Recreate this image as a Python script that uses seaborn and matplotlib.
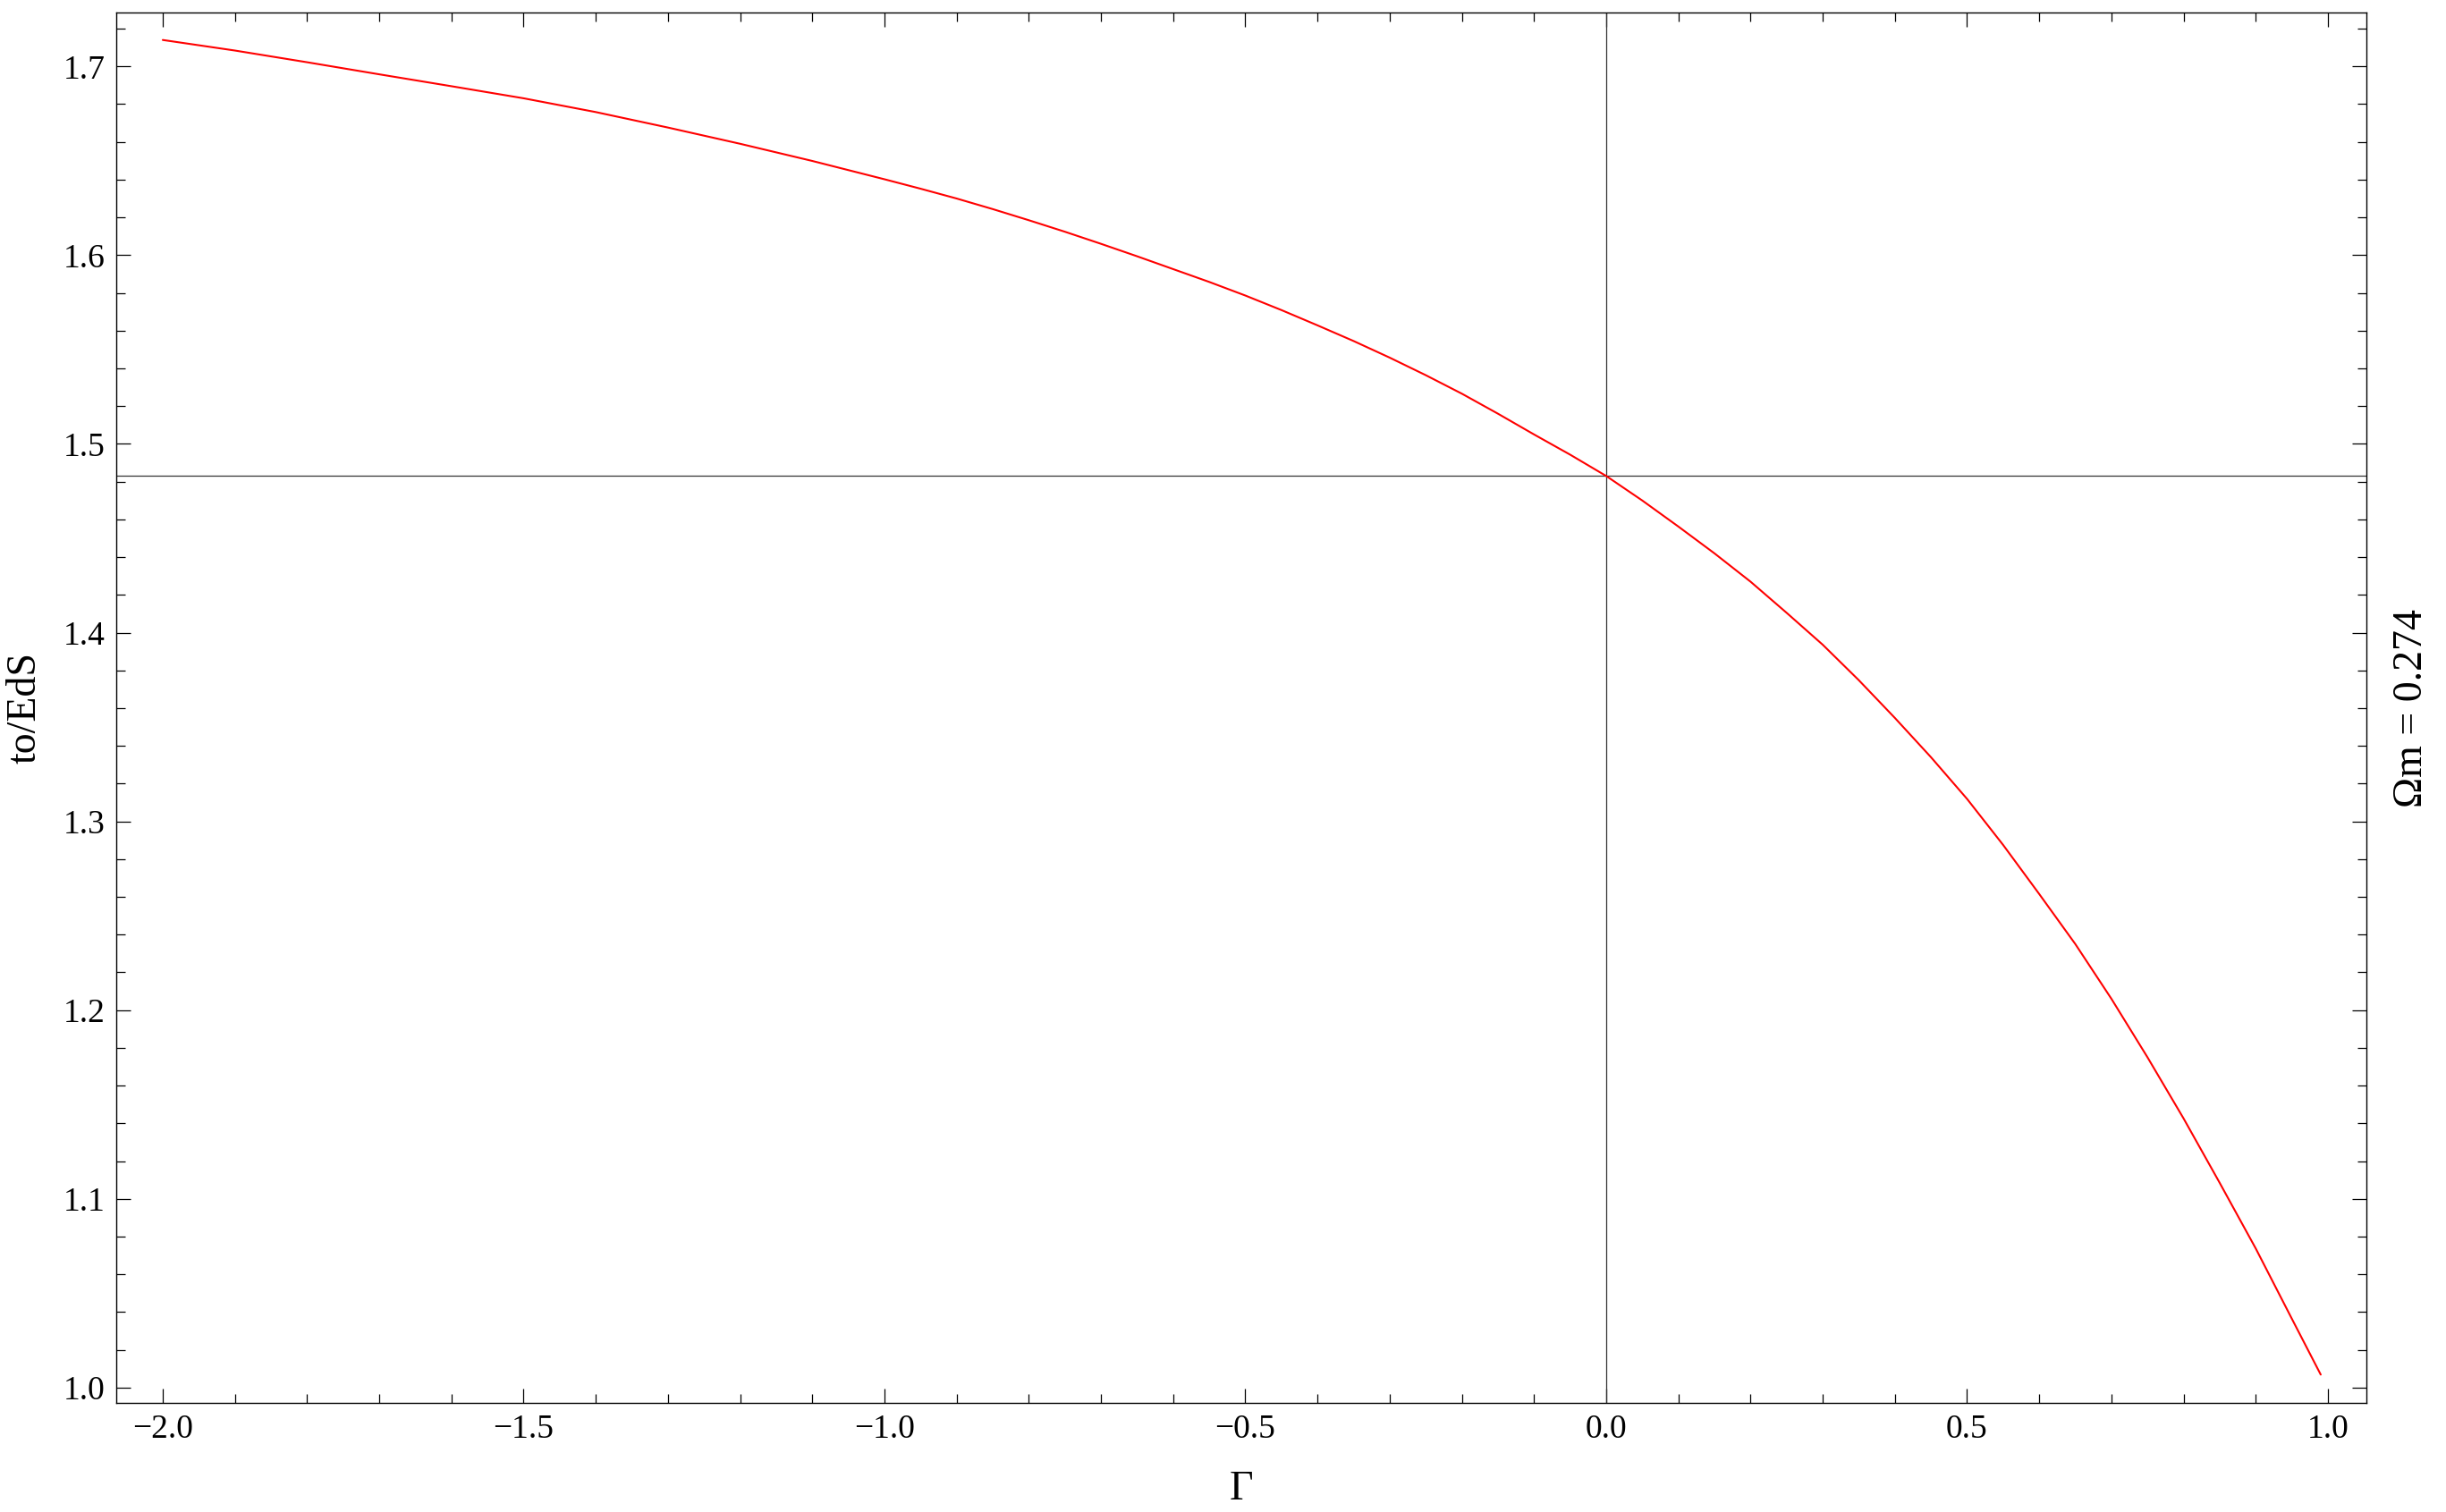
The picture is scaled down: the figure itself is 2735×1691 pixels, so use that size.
import numpy as np
import pandas as pd
import matplotlib
matplotlib.use("Agg")
import matplotlib.pyplot as plt
from matplotlib.ticker import MultipleLocator, FuncFormatter
import seaborn as sns

# ---- data ----
gamma = [-2.0, -1.9, -1.8, -1.7, -1.6, -1.5, -1.4, -1.3, -1.2, -1.1,
         -1.0, -0.95, -0.9, -0.85, -0.8, -0.75, -0.7, -0.65, -0.6, -0.55,
         -0.5, -0.45, -0.4, -0.35, -0.3, -0.25, -0.2, -0.15, -0.1, -0.05,
         0.0, 0.05, 0.1, 0.15, 0.2, 0.25, 0.3, 0.35, 0.4, 0.45,
         0.5, 0.55, 0.6, 0.65, 0.7, 0.75, 0.8, 0.85, 0.9, 0.95, 0.99]
t0_eds = [1.7140, 1.7084, 1.7022, 1.6958, 1.6895, 1.6831, 1.6758, 1.6676, 1.6590, 1.6499,
          1.6402, 1.6352, 1.6300, 1.6244, 1.6185, 1.6124, 1.6060, 1.5994, 1.5926, 1.5858,
          1.5786, 1.5709, 1.5628, 1.5545, 1.5457, 1.5364, 1.5266, 1.5160, 1.5050, 1.4943,
          1.4830, 1.4700, 1.4562, 1.4420, 1.4270, 1.4105, 1.3936, 1.3748, 1.3548, 1.3340,
          1.3119, 1.2875, 1.2615, 1.2350, 1.2060, 1.1750, 1.1426, 1.1085, 1.0737, 1.0365, 1.0069]
ref_gamma = 0.0
ref_t0 = 1.4830
x_ticks = [-2.0, -1.5, -1.0, -0.5, 0.0, 0.5, 1.0]
y_ticks = [1.0, 1.1, 1.2, 1.3, 1.4, 1.5, 1.6, 1.7]
x_label = "Γ"
y_label = "to/EdS"
side_note = "Ωm = 0.274"

df = pd.DataFrame({"gamma": gamma, "t0": t0_eds})

sns.set_theme(style="ticks")
plt.rcParams["font.family"] = ["Liberation Serif", "DejaVu Serif"]
plt.rcParams["axes.unicode_minus"] = True

W, H, DPI = 2735, 1691, 200
fig = plt.figure(figsize=(W / DPI, H / DPI), dpi=DPI)
L, R, T, B = 130, 2646, 14.3, 1569.3
ax = fig.add_axes([L / W, 1 - B / H, (R - L) / W, (B - T) / H])

ax.axvline(ref_gamma, color="0.2", lw=0.45, zorder=1)
ax.axhline(ref_t0, color="0.2", lw=0.45, zorder=1)
sns.lineplot(data=df, x="gamma", y="t0", ax=ax, color="#ff0000", lw=0.75, zorder=3)

ax.set_xlim(-2.0644, 1.0533)
ax.set_ylim(0.99176, 1.72840)

ax.set_xticks(x_ticks)
ax.set_yticks(y_ticks)
ax.xaxis.set_minor_locator(MultipleLocator(0.1))
ax.yaxis.set_minor_locator(MultipleLocator(0.02))
fmt = FuncFormatter(lambda v, p: f"{v:.1f}".replace("-", "\u2212"))
ax.xaxis.set_major_formatter(fmt)
ax.yaxis.set_major_formatter(fmt)

for s in ax.spines.values():
    s.set_visible(True)
    s.set_linewidth(0.5)
    s.set_color("black")

ax.tick_params(which="both", direction="in", top=True, right=True,
               labeltop=False, labelright=False, width=0.45, color="black")
ax.tick_params(which="major", length=5.9, pad=4.5, labelsize=13.5, labelcolor="black")
ax.tick_params(which="minor", length=3.6)

ax.set_xlabel(x_label, fontsize=16.5, color="black")
ax.set_ylabel(y_label, fontsize=16.5, color="black")
ax.xaxis.label.set_va("center")
ax.yaxis.label.set_va("center")
ax.xaxis.set_label_coords(0.5, -96 / (B - T))
ax.yaxis.set_label_coords(-102 / (R - L), 0.5)

ax.text(1 + 51 / (R - L), 0.5, side_note, transform=ax.transAxes, rotation=90,
        ha="center", va="center", fontsize=16.5, color="black")

ax.grid(False)
ax.set_facecolor("white")
fig.patch.set_facecolor("white")
fig.savefig("out.png", dpi=DPI, facecolor="white")
